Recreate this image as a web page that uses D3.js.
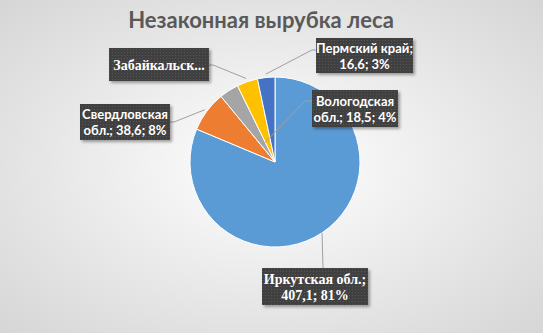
<!DOCTYPE html>
<html>
<head>
<meta charset="utf-8">
<script src="https://cdn.jsdelivr.net/npm/d3@7"></script>
<style>
  html, body { margin: 0; padding: 0; }
  body { width: 543px; height: 333px; overflow: hidden; }
</style>
</head>
<body>
<script>
// data
const regions = ["Иркутская обл.", "Свердловская обл.", "Вологодская обл.", "Забайкальский край", "Пермский край"];
const values = [407.1, 38.6, 18.5, 19.8, 16.6];
const labelLines = [
  ["Иркутская обл.;", "407,1; 81%"],
  ["Свердловская", "обл.; 38,6; 8%"],
  ["Вологодская", "обл.; 18,5; 4%"],
  ["Забайкальск..."],
  ["Пермский край;", "16,6; 3%"]
];
const colors = ["#5B9BD5", "#ED7D31", "#A5A5A5", "#FFC000", "#4472C4"];

const width = 543, height = 333;
const cx = 275, cy = 162, radius = 85;

// label box layout: box, font, leader start point, leader radius factor
const boxes = [
  {x: 262, y: 268, w: 106, h: 37, serif: true,  from: [[323, 268]], rf: 1.0},
  {x: 80,  y: 104, w: 90,  h: 36, serif: false, from: [[170, 122], [174, 122]], rf: 1.03},
  {x: 312, y: 90,  w: 86,  h: 37, serif: false, from: [[312, 101], [305, 101]], rf: 0.25},
  {x: 109, y: 48,  w: 100, h: 33, serif: true,  from: [[209, 65], [213, 65]], rf: 1.04},
  {x: 316, y: 38,  w: 97,  h: 35, serif: false, from: [[316, 50], [312, 50]], rf: 1.04}
];

const svg = d3.select("body").append("svg")
  .attr("width", width)
  .attr("height", height);

const defs = svg.append("defs");

const bg = defs.append("radialGradient")
  .attr("id", "bg")
  .attr("cx", "50%").attr("cy", "50%").attr("r", "70%");
bg.append("stop").attr("offset", "0%").attr("stop-color", "#ffffff");
bg.append("stop").attr("offset", "100%").attr("stop-color", "#d6d6d6");

const dots = defs.append("pattern")
  .attr("id", "dots")
  .attr("width", 3).attr("height", 3)
  .attr("patternUnits", "userSpaceOnUse");
dots.append("rect").attr("width", 3).attr("height", 3).attr("fill", "#3f3f3f");
dots.append("rect").attr("x", 1).attr("y", 1).attr("width", 1).attr("height", 1).attr("fill", "#565656");

const shadow = defs.append("filter").attr("id", "shadow")
  .attr("x", "-20%").attr("y", "-20%").attr("width", "150%").attr("height", "160%");
shadow.append("feDropShadow")
  .attr("dx", 2).attr("dy", 2).attr("stdDeviation", 1.5)
  .attr("flood-color", "#000").attr("flood-opacity", 0.35);

svg.append("rect")
  .attr("width", width).attr("height", height)
  .attr("fill", "url(#bg)");

// title
svg.append("text")
  .attr("x", 261)
  .attr("y", 28)
  .attr("text-anchor", "middle")
  .attr("font-family", "Lato, 'Open Sans', sans-serif")
  .attr("font-weight", "bold")
  .attr("font-size", 22)
  .attr("fill", "#595959")
  .text("Незаконная вырубка леса");

const pie = d3.pie().sort(null).value(d => d);
const arcs = pie(values);

const arc = d3.arc().innerRadius(0).outerRadius(radius);

const g = svg.append("g").attr("transform", `translate(${cx},${cy})`);

g.selectAll("path")
  .data(arcs)
  .join("path")
  .attr("d", arc)
  .attr("fill", (d, i) => colors[i])
  .attr("stroke", "#ffffff")
  .attr("stroke-width", 1);

// leader lines
arcs.forEach((a, i) => {
  const b = boxes[i];
  const mid = (a.startAngle + a.endAngle) / 2;
  const r = radius * b.rf;
  const end = [cx + r * Math.sin(mid), cy - r * Math.cos(mid)];
  const pts = b.from.concat([end]);
  svg.append("path")
    .attr("d", d3.line()(pts))
    .attr("fill", "none")
    .attr("stroke", "#a0a0a0")
    .attr("stroke-width", 1);
});

// labels
const lab = svg.selectAll("g.label")
  .data(arcs)
  .join("g")
  .attr("class", "label");

lab.append("rect")
  .attr("x", (d, i) => boxes[i].x)
  .attr("y", (d, i) => boxes[i].y)
  .attr("width", (d, i) => boxes[i].w)
  .attr("height", (d, i) => boxes[i].h)
  .attr("fill", "url(#dots)")
  .attr("filter", "url(#shadow)");

lab.each(function(d, i) {
  const b = boxes[i];
  const lines = labelLines[i];
  const t = d3.select(this).append("text")
    .attr("text-anchor", "middle")
    .attr("font-weight", "bold")
    .attr("font-size", b.serif ? 14 : 13)
    .attr("fill", "#ffffff")
    .style("font-family", b.serif ? "'Liberation Serif', 'Times New Roman', 'DejaVu Serif', serif" : "Lato, sans-serif");
  const y0 = b.y + b.h / 2 - (lines.length - 1) * 8 + 5;
  lines.forEach((s, k) => {
    t.append("tspan")
      .attr("x", b.x + b.w / 2)
      .attr("y", y0 + k * 16)
      .text(s);
  });
});
</script>
</body>
</html>
